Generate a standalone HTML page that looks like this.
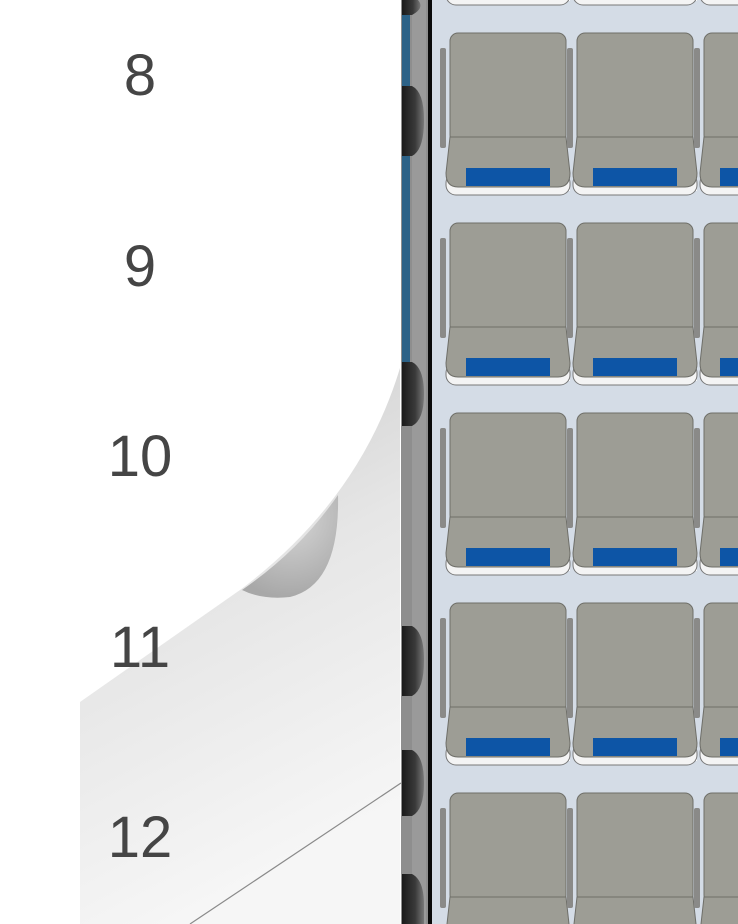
<!DOCTYPE html>
<html><head><meta charset="utf-8"><style>
html,body{margin:0;padding:0;background:#fff;}
svg{display:block}
text{font-family:"Liberation Sans",sans-serif;font-size:58px;fill:#454545;text-anchor:middle}
</style></head><body>
<svg width="738" height="924" viewBox="0 0 738 924" xmlns="http://www.w3.org/2000/svg">
<defs>
<linearGradient id="bump" x1="0" x2="1" y1="0" y2="0">
<stop offset="0" stop-color="#1a1a1a"/><stop offset="0.6" stop-color="#3a3a3a"/><stop offset="1" stop-color="#777"/>
</linearGradient>
<linearGradient id="curl" x1="0" y1="0" x2="0.3" y2="1">
<stop offset="0" stop-color="#c8c8c8"/><stop offset="0.5" stop-color="#e6e6e6"/><stop offset="1" stop-color="#f6f6f6"/>
</linearGradient>
<radialGradient id="cup" cx="0.5" cy="0.2" r="0.8">
<stop offset="0" stop-color="#d8d8d8"/><stop offset="1" stop-color="#a8a8a8"/>
</radialGradient>
<g id="seat">
<rect x="-6" y="15" width="6" height="100" rx="2" fill="#8a8a88"/>
<path d="M0,150 Q0,160 10,162 L114,162 Q124,160 124,150 L124,158 Q124,148 124,158 Z" fill="#fff"/>
<rect x="0" y="140" width="124" height="22" rx="10" fill="#f4f4f4" stroke="#777" stroke-width="1"/>
<rect x="4" y="0" width="116" height="110" rx="8" fill="#9d9d95" stroke="#6e6e68" stroke-width="1"/>
<path d="M4,104 L120,104 L124,140 Q124,154 112,154 L12,154 Q0,154 0,140 Z" fill="#9d9d95" stroke="#6e6e68" stroke-width="1"/>
<rect x="20" y="135" width="84" height="18" fill="#0d55a6"/>
</g>
<g id="row">
<use href="#seat" x="446"/>
<use href="#seat" x="573"/>
<use href="#seat" x="700"/>
</g>
</defs>
<!-- cabin bg -->
<rect x="432" y="0" width="306" height="924" fill="#d4dce6"/>
<use href="#row" y="-157"/>
<use href="#row" y="33"/>
<use href="#row" y="223"/>
<use href="#row" y="413"/>
<use href="#row" y="603"/>
<use href="#row" y="793"/>
<!-- wall -->
<rect x="401" y="0" width="28" height="924" fill="#8e8e8e"/>
<rect x="402" y="15" width="8" height="347" fill="#2c6287"/>
<rect x="412" y="0" width="14" height="924" fill="#9a9a9a"/>
<rect x="428" y="0" width="4" height="924" fill="#0a0a0a"/>
<path d="M402,0 L418,0 Q425,8 412,15 L402,15 Z" fill="url(#bump)"/>
<path d="M402,86 L412,86 Q424,92 424,120 Q424,150 412,156 L402,156 Z" fill="url(#bump)"/>
<path d="M402,362 L412,362 Q424,368 424,394 Q424,420 412,426 L402,426 Z" fill="url(#bump)"/>
<path d="M402,626 L412,626 Q424,632 424,660 Q424,690 412,696 L402,696 Z" fill="url(#bump)"/>
<path d="M402,750 L412,750 Q424,756 424,783 Q424,810 412,816 L402,816 Z" fill="url(#bump)"/>
<path d="M402,874 L412,874 Q424,880 424,905 L424,924 L402,924 Z" fill="url(#bump)"/>
<!-- page curl -->
<path d="M400,368 Q360,500 240,590 L80,702 L80,924 L400,924 Z" fill="url(#curl)"/>
<path d="M338,495 Q340,585 290,597 Q262,600 242,590 Q300,550 338,495 Z" fill="url(#cup)"/>
<line x1="190" y1="924" x2="401" y2="783" stroke="#8a8a8a" stroke-width="1.2"/>
<!-- numbers -->
<text x="140" y="95">8</text>
<text x="140" y="286">9</text>
<text x="140" y="476">10</text>
<text x="140" y="667">11</text>
<text x="140" y="857">12</text>
</svg>
</body></html>
